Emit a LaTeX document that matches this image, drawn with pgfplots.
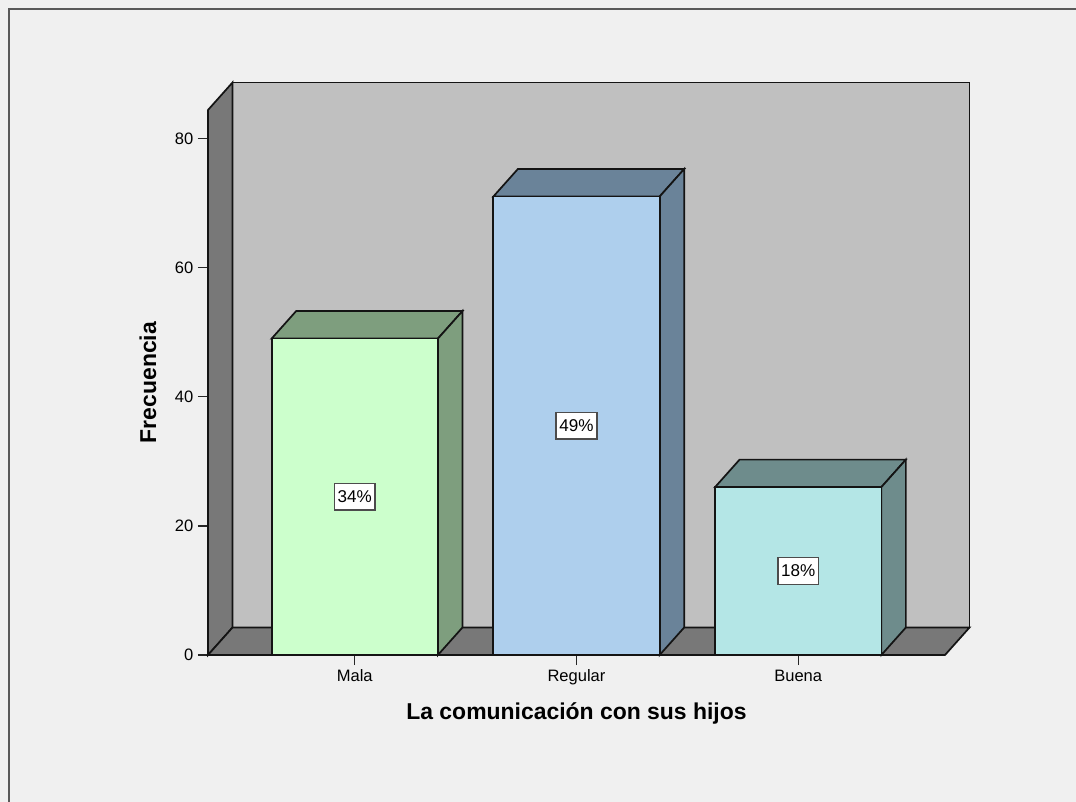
\documentclass[border=0pt]{standalone}
\usepackage{fontspec}
\setmainfont{Liberation Sans}
\usepackage{pgfplots}
\pgfplotsset{compat=1.18}
\definecolor{bgc}{HTML}{F0F0F0}
\definecolor{wallback}{HTML}{C0C0C0}
\definecolor{walldark}{HTML}{787878}
\definecolor{malaF}{HTML}{CCFFCC}
\definecolor{malaS}{HTML}{7E9E7E}
\definecolor{regF}{HTML}{AECFED}
\definecolor{regS}{HTML}{6A8399}
\definecolor{bueF}{HTML}{B4E6E6}
\definecolor{bueS}{HTML}{6E8C8C}
\begin{document}
\begin{tikzpicture}
\fill[bgc] (0,0) rectangle (807pt,-601.5pt);
\path[use as bounding box] (0,0) rectangle (807pt,-601.5pt);
\draw[line width=1.5pt, black!65] (6.75pt,-605pt) -- (6.75pt,-6.75pt) -- (810pt,-6.75pt);
\begin{axis}[
  at={(156pt,-491.25pt)}, anchor=south west,
  scale only axis, width=552.75pt, height=408.75pt,
  xmin=-0.662, xmax=2.662, ymin=0, ymax=84.4,
  clip=false,
  axis line style={draw=none},
  xtick={0,1,2}, xticklabels={Mala,Regular,Buena},
  ytick={0,20,40,60,80},
  xtick pos=bottom, ytick pos=left,
  tick align=outside, major tick length=7.5pt,
  tick style={black!85, line width=1pt},
  tick label style={font=\fontsize{12.4}{14}\selectfont},
  /pgf/number format/assume math mode=true,
  xlabel={La comunicación con sus hijos},
  ylabel={Frecuencia},
  label style={font=\fontsize{17.2}{19}\selectfont\bfseries},
  xlabel style={yshift=-6pt},
  ylabel shift=7pt,
]
\pgfplotsset{every axis plot/.append style={draw=black!92, line width=1.3pt, mark=none, forget plot}}
% walls and floor
\addplot[fill=wallback]
  coordinates {(-0.5515,4.257) (2.7725,4.257) (2.7725,88.657) (-0.5515,88.657)} --cycle;
\addplot[fill=walldark]
  coordinates {(-0.662,0) (-0.662,84.4) (-0.5515,88.657) (-0.5515,4.257)} --cycle;
\addplot[fill=walldark]
  coordinates {(-0.662,0) (-0.5515,4.257) (2.7725,4.257) (2.662,0)} --cycle;
% Mala (49)
\addplot[fill=malaS]
  coordinates {(-0.375,49) (-0.2645,53.257) (0.4855,53.257) (0.375,49)} --cycle;
\addplot[fill=malaS]
  coordinates {(0.375,0) (0.4855,4.257) (0.4855,53.257) (0.375,49)} --cycle;
\addplot[ybar, bar width=0.75, bar shift=0pt, fill=malaF]
  coordinates {(0,49)};
% Regular (71)
\addplot[fill=regS]
  coordinates {(0.625,71) (0.7355,75.257) (1.4855,75.257) (1.375,71)} --cycle;
\addplot[fill=regS]
  coordinates {(1.375,0) (1.4855,4.257) (1.4855,75.257) (1.375,71)} --cycle;
\addplot[ybar, bar width=0.75, bar shift=0pt, fill=regF]
  coordinates {(1,71)};
% Buena (26)
\addplot[fill=bueS]
  coordinates {(1.625,26) (1.7355,30.257) (2.4855,30.257) (2.375,26)} --cycle;
\addplot[fill=bueS]
  coordinates {(2.375,0) (2.4855,4.257) (2.4855,30.257) (2.375,26)} --cycle;
\addplot[ybar, bar width=0.75, bar shift=0pt, fill=bueF]
  coordinates {(2,26)};
% percentage labels
\tikzset{pct/.style={draw=black!70, line width=1.1pt, fill=white, inner xsep=2.5pt, inner ysep=5.5pt, font=\fontsize{12.8}{14}\selectfont}}
\node[pct] at (axis cs:0,24.5) {34\%};
\node[pct] at (axis cs:1,35.5) {49\%};
\node[pct] at (axis cs:2,13) {18\%};
\end{axis}
\end{tikzpicture}
\end{document}
